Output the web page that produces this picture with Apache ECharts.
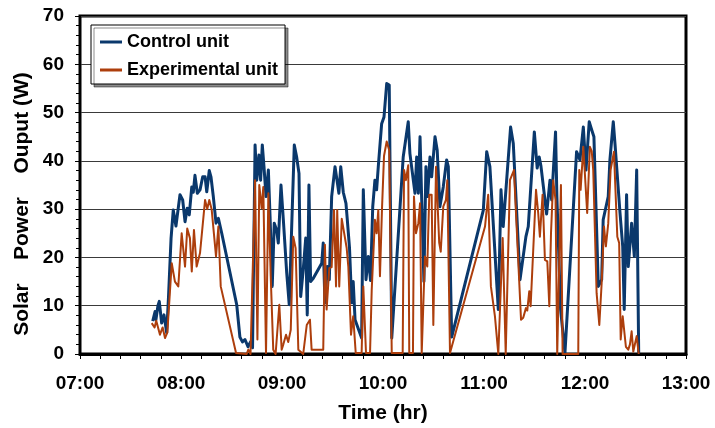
<!DOCTYPE html>
<html>
<head>
<meta charset="utf-8">
<script src="https://cdn.jsdelivr.net/npm/echarts@6/dist/echarts.min.js"></script>
<style>
html,body{margin:0;padding:0;background:#fff;}
#chart{width:715px;height:428px;}
</style>
</head>
<body>
<div id="chart"></div>
<script>
// Time in minutes after midnight, power in W
var seriesNames = ['Control unit', 'Experimental unit'];
var xTickMin = 420, xTickMax = 780, xTickStep = 60;   // 07:00 .. 13:00
var yTickMin = 0, yTickMax = 70, yTickStep = 10;

var controlTime = [
  463.2,464.6,465.1,466.3,467.1,468.5,469.9,471.5,472.6,474.1,
  475.4,477.0,479.4,481.0,482.4,483.7,484.9,486.4,487.3,488.3,
  489.7,491.3,492.9,494.3,495.3,496.8,497.8,499.2,500.8,502.2,
  504.2,513.1,515.0,516.5,518.0,519.8,521.3,522.5,524.0,525.0,
  526.3,527.3,528.3,529.3,530.5,531.9,532.9,534.2,535.4,536.8,
  537.8,539.4,540.8,542.8,544.3,545.7,547.3,548.7,550.1,551.1,
  552.6,554.1,555.0,556.0,557.0,558.6,563.6,564.5,565.5,566.9,
  568.1,569.5,571.5,572.5,573.8,574.9,576.4,578.0,578.8,580.1,
  581.4,582.3,583.4,587.3,588.3,589.9,591.3,592.6,593.9,595.2,
  596.2,597.2,599.2,600.6,602.2,603.7,605.2,612.0,615.0,616.0,
  619.0,620.0,621.0,622.0,623.0,624.3,625.5,626.5,627.9,628.9,
  630.9,632.2,633.8,635.8,637.8,638.8,640.8,659.6,661.6,663.5,
  668.5,670.1,671.4,675.8,677.4,681.4,684.9,686.3,689.9,691.6,
  692.8,693.8,697.2,699.2,700.2,702.5,703.3,705.5,708.1,715.0,
  717.0,719.0,720.6,722.5,724.0,725.3,727.9,729.9,730.8,733.8,
  734.8,736.8,737.8,740.8,742.4,743.3,744.7,745.7,747.7,749.3,
  750.7,751.9
];
var controlPower = [
  6.8,8.8,7.1,10.0,10.9,6.4,8.1,4.4,12,24,
  29.8,26.5,33,31.9,27.4,30.2,28.8,34.6,33.5,37,
  33.3,34,36.7,36.7,33.6,38,36.7,32.6,27.1,28.1,
  25,10.2,3.5,2.5,3,1.5,2.5,1.3,43.3,36,
  41.2,36,43.3,38.8,32.6,38.1,28.5,14,27.1,25.7,
  23,35,27.8,16.8,10.2,25.7,43.3,40.8,37.4,11.9,
  17.4,24,8.1,35,15,15.7,18.8,23,10.6,18.1,
  15.4,32.6,38.8,39.1,33.3,38.8,33.5,31.2,27.8,22,
  10.6,15,7.1,3.3,34,15.4,20.2,15.2,30.5,36,
  34,38.8,47.7,49.1,56,55.7,3.3,40.8,48.1,41.5,
  33.3,40.8,33.3,45,31.9,15,38.8,32.6,40.8,36.7,
  45,42.2,30.5,34.6,40.2,38.8,3.5,29.8,41.9,38.8,
  9.2,34,26.4,47,43.6,15.4,24.3,26.4,46,38.5,
  40.8,39,29,36,31.9,46,32.6,9.2,0.2,41.9,
  40.2,47,38.1,48.1,46.4,45,14,15.4,27.8,32.6,
  40.2,48.1,43.6,29.2,22.3,9.2,33,18.1,27.1,20.2,
  38.1,0.2
];

var expTime = [
  462.6,464.3,465.3,467.5,469.1,470.5,471.9,474.5,476.4,478.4,
  480.4,482.4,483.7,485.3,486.4,487.7,489.3,491.3,494.3,495.6,
  496.8,498.2,500.8,502.2,503.6,512.7,519.0,520.0,521.3,524.0,
  525.4,526.5,527.9,528.9,530.5,531.9,533.3,534.8,536.2,538.4,
  539.8,540.8,542.4,543.7,545.2,546.7,548.1,549.7,552.6,554.7,
  556.6,557.6,564.5,565.5,566.5,568.1,569.5,570.9,572.1,572.8,
  574.0,575.5,578.4,579.4,581.0,582.3,583.8,587.3,588.3,589.9,
  592.3,593.3,595.2,596.2,597.2,598.2,599.4,600.6,602.2,603.7,
  605.2,611.7,612.5,613.6,615.0,615.6,617.8,618.4,619.6,621.0,
  622.0,623.0,624.0,624.9,626.3,627.5,628.9,629.9,631.5,633.4,
  634.3,635.8,637.4,638.2,639.8,660.6,662.5,664.1,666.5,668.5,
  671.1,672.9,675.4,677.8,682.0,683.3,684.9,685.7,686.9,687.7,
  690.9,692.2,693.2,694.8,696.2,697.6,698.8,699.8,701.1,702.5,
  703.5,704.5,705.7,706.7,716.0,716.6,717.4,719.0,721.3,722.9,
  724.0,724.9,726.9,728.5,729.9,731.3,732.4,733.8,735.2,737.2,
  739.2,740.3,741.2,742.4,744.3,745.7,746.7,747.7,748.7,750.7,
  751.9
];
var expPower = [
  6.4,5.5,6.9,4,5.5,3.3,4.5,18.8,15,14,
  25,18.1,26,24,17.1,25.7,18.1,20.9,31.9,30,
  31.9,30,20.2,26.4,14,0.2,0,0.9,0,36,
  3,35,30.2,34.6,0.2,33.3,16.1,0.9,0,10.2,
  0.9,2,4,2.5,5,24.3,21.9,0.9,0,6,
  7.1,0.9,0.9,22.6,9.2,17.8,18,29.8,14,29.8,
  14,28,22,18.1,4,7.8,0.2,0.2,14,0.2,
  0.2,13.3,27.8,25,29.8,16.1,30,41,44,42.2,
  0.2,0.2,38.1,36,39.1,0.2,0.2,32.6,25,27.1,
  31.2,0.2,0.2,20.2,18.1,33,33,6,38.8,23,
  21.2,30.5,31.9,36,0.2,26.4,33,14,7.8,0,
  24,0,36,38.1,7.1,7.5,9.5,9,13,9.9,
  34,29.2,24.3,33,19.5,19.2,9.9,25,36,31.9,
  0,0,35,0,0,38.1,34,42.9,29.2,42.9,
  42,38,12.6,6,14.7,26.4,22.3,27,38.1,41.9,
  24.3,23,3,7.8,1.5,0.9,2,4.7,0.5,3.7,
  0
];

function pairs(t, v) {
  var n = Math.min(t.length, v.length), out = [];
  for (var i = 0; i < n; i++) out.push([t[i], v[i]]);
  return out;
}
function hhmm(val) {
  var h = Math.floor(val / 60), m = Math.round(val - h * 60);
  return (h < 10 ? '0' : '') + h + ':' + (m < 10 ? '0' : '') + m;
}

var FONT = '"Liberation Sans", Arial, Helvetica, sans-serif';
var chart = echarts.init(document.getElementById('chart'), null, {renderer: 'canvas'});
chart.setOption({
  animation: false,
  backgroundColor: '#ffffff',
  grid: {
    left: 80, top: 16, width: 606, height: 338,
    show: true, borderColor: '#000', borderWidth: 3, backgroundColor: 'transparent'
  },
  legend: {
    left: 91, top: 25, orient: 'vertical',
    data: seriesNames,
    icon: 'rect', itemWidth: 22, itemHeight: 3, itemGap: 10, itemTextGap: 4,
    padding: [8, 7, 5, 9],
    backgroundColor: '#fff', borderColor: '#000', borderWidth: 1,
    shadowColor: 'rgba(0,0,0,0.45)', shadowOffsetX: 3, shadowOffsetY: 3, shadowBlur: 0,
    textStyle: {fontFamily: FONT, fontWeight: 'bold', fontSize: 18, color: '#000'}
  },
  xAxis: {
    type: 'value', min: xTickMin, max: xTickMax, interval: xTickStep,
    axisLine: {show: true, lineStyle: {color: '#000', width: 3}},
    axisTick: {show: true, length: 5, lineStyle: {color: '#000', width: 1}},
    minorTick: {show: true, splitNumber: 5, length: 5, lineStyle: {color: '#000', width: 1}},
    splitLine: {show: false},
    axisLabel: {
      margin: 20, color: '#000', fontFamily: FONT, fontWeight: 'bold', fontSize: 19,
      formatter: function (v) { return hhmm(v); }
    }
  },
  yAxis: {
    type: 'value', min: yTickMin, max: yTickMax, interval: yTickStep,
    axisLine: {show: true, lineStyle: {color: '#000', width: 2}},
    axisTick: {show: true, length: 5, lineStyle: {color: '#000', width: 1}},
    minorTick: {show: true, splitNumber: 5, length: 4, lineStyle: {color: '#000', width: 1}},
    splitLine: {show: true, lineStyle: {color: '#3a3a3a', width: 1}},
    axisLabel: {margin: 16, color: '#000', fontFamily: FONT, fontWeight: 'bold', fontSize: 19}
  },
  graphic: [
    {
      type: 'text', x: 383, y: 413, z: 10,
      style: {
        text: 'Time (hr)', font: 'bold 21px ' + FONT, fill: '#000',
        align: 'center', verticalAlign: 'middle', textAlign: 'center', textVerticalAlign: 'middle'
      }
    },
    {
      type: 'text', x: 22, y: 204, rotation: Math.PI / 2, z: 10,
      style: {
        text: 'Solar\u00a0\u00a0\u00a0\u00a0Power\u00a0\u00a0\u00a0\u00a0Ouput (W)',
        font: 'bold 21px ' + FONT, fill: '#000',
        align: 'center', verticalAlign: 'middle', textAlign: 'center', textVerticalAlign: 'middle'
      }
    }
  ],
  series: [
    {
      name: seriesNames[0], type: 'line', data: pairs(controlTime, controlPower),
      showSymbol: false, symbol: 'none',
      lineStyle: {color: '#0a386c', width: 3, join: 'round'},
      itemStyle: {color: '#0a386c'}
    },
    {
      name: seriesNames[1], type: 'line', data: pairs(expTime, expPower),
      showSymbol: false, symbol: 'none',
      lineStyle: {color: '#ad3e0c', width: 2, join: 'round'},
      itemStyle: {color: '#ad3e0c'}
    }
  ]
});
</script>
</body>
</html>
